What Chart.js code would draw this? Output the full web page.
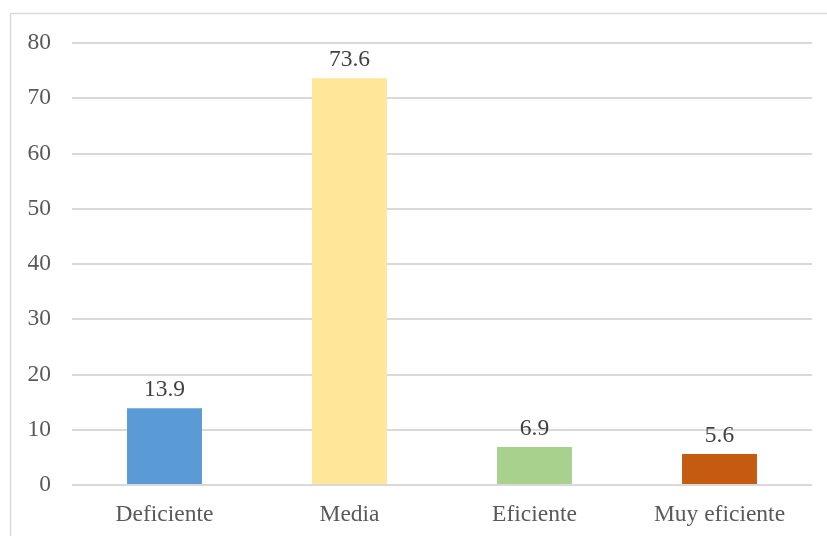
<!DOCTYPE html>
<html>
<head>
<meta charset="utf-8">
<script src="https://cdn.jsdelivr.net/npm/chart.js@4/dist/chart.umd.min.js"></script>
<style>
html,body{margin:0;padding:0;background:#fff;}
#wrap{width:827px;height:536px;position:relative;}
</style>
</head>
<body>
<div id="wrap"><canvas id="nivelChart" width="827" height="536"></canvas></div>
<script>
const categorias = ["Deficiente","Media","Eficiente","Muy eficiente"]
const porcentajes = [13.9,73.6,6.9,5.6]
const colores = ["#5b9bd5","#ffe699","#a9d18e","#c55a11"]
const ticksY = [0,10,20,30,40,50,60,70,80]

const fuente = "'Liberation Serif','Times New Roman',serif"

// marco exterior gris
const marco = {
id:"marco",
beforeDraw(chart){
const c = chart.ctx
c.save()
c.strokeStyle = "#d9d9d9"
c.lineWidth = 1.5
c.beginPath()
c.moveTo(10.5,600)
c.lineTo(10.5,13.5)
c.lineTo(900,13.5)
c.stroke()
c.restore()
}
}

// etiquetas de valor encima de cada barra
const etiquetas = {
id:"etiquetas",
afterDatasetsDraw(chart){
const c = chart.ctx
const meta = chart.getDatasetMeta(0)
c.save()
c.font = "23.5px " + fuente
c.fillStyle = "#404040"
c.textAlign = "center"
c.textBaseline = "alphabetic"
meta.data.forEach((bar,i)=>{
c.fillText(porcentajes[i].toFixed(1), bar.x, bar.y - 12)
})
c.restore()
}
}

new Chart(document.getElementById("nivelChart"),{

type:"bar",

data:{
labels:categorias,
datasets:[{
data:porcentajes,
backgroundColor:colores,
borderWidth:0,
barPercentage:0.405,
categoryPercentage:1
}]
},

options:{
responsive:false,
animation:false,
layout:{padding:{left:0,top:43,right:15,bottom:0}},
plugins:{legend:{display:false},tooltip:{enabled:false}},
scales:{
y:{
min:0,
max:80,
afterBuildTicks(axis){ axis.ticks = ticksY.map(v=>({value:v})) },
afterFit(axis){ axis.width = 72 },
grid:{color:"#d9d9d9",lineWidth:2,drawTicks:false},
border:{display:false},
ticks:{padding:21,color:"#595959",font:{family:fuente,size:23.5}}
},
x:{
afterFit(axis){ axis.height = 51 },
grid:{display:false,drawTicks:false},
border:{display:false},
ticks:{padding:16,color:"#595959",font:{family:fuente,size:23.5}}
}
}
},

plugins:[marco,etiquetas]

})
</script>
</body>
</html>
